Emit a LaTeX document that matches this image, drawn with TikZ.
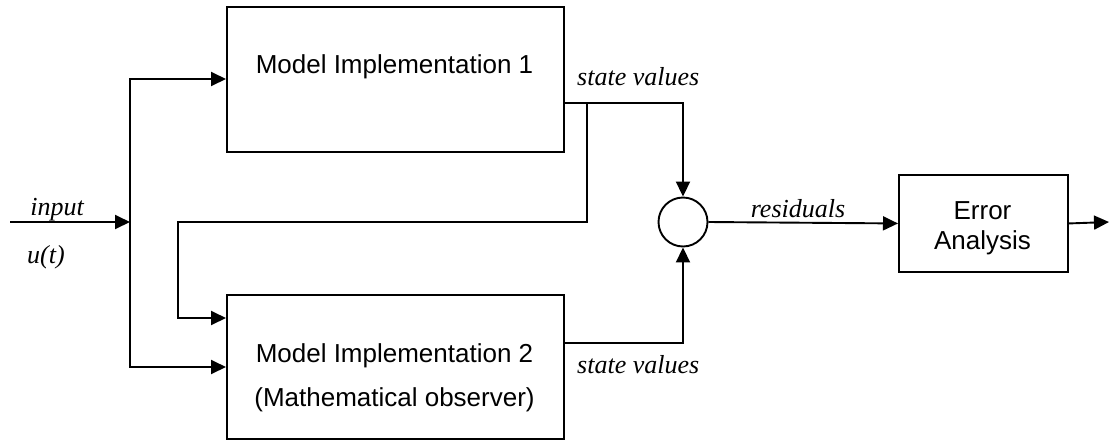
\documentclass[tikz,border=0pt]{standalone}
\usepackage{fontspec}
\setmainfont{Liberation Serif}
\setsansfont{Liberation Sans}
\usetikzlibrary{arrows.meta}
\begin{document}
\begin{tikzpicture}[x=1pt,y=-1pt,
  blk/.style={draw, line width=1.9pt, inner sep=0pt, anchor=north west},
  conn/.style={line width=1.9pt, -{Triangle[length=15pt,width=14pt]}},
  lbl/.style={font=\sffamily\fontsize{26}{30}\selectfont, inner sep=0pt, anchor=base},
  itl/.style={font=\itshape\fontsize{26}{30}\selectfont, inner sep=0pt}]
\useasboundingbox (0,0) rectangle (1109,445);
% blocks
\node[blk, minimum width=337pt, minimum height=145pt] (m1) at (226,6) {};
\node[blk, minimum width=337pt, minimum height=144pt] (m2) at (226,294) {};
\node[blk, minimum width=169pt, minimum height=97pt] (err) at (898,174) {};
\node[draw, circle, line width=1.9pt, minimum size=49pt, inner sep=0pt] (sum) at (683,222) {};
% block texts
\node[lbl] (t1) at (394.5,73) {Model Implementation 1};
\node[lbl] (t2) at (394.5,362) {Model Implementation 2};
\node[lbl] (t3) at (394.5,406) {(Mathematical observer)};
\node[lbl] (t4) at (982.5,219) {Error};
\node[lbl] (t5) at (982.5,249) {Analysis};
% italic labels
\node[itl, anchor=base] (l1) at (57,215) {input};
\node[itl, anchor=base] (l2) at (46,263) {u(t)};
\node[itl, anchor=base west] (l3) at (577,85) {state values};
\node[itl, anchor=base west] (l4) at (577,373) {state values};
\node[itl, anchor=base] (l5) at (798,217) {residuals};
% coordinates
\coordinate (in) at (10,222);
\coordinate (j) at (130,222);
\coordinate (m1in) at ([yshift=-73pt]m1.north west);
\coordinate (m2in1) at ([yshift=-24pt]m2.north west);
\coordinate (m2in2) at ([yshift=-73pt]m2.north west);
\coordinate (m1out) at ([yshift=-97pt]m1.north east);
\coordinate (m2out) at ([yshift=-49pt]m2.north east);
\coordinate (fb) at (587,103);
\coordinate (fb2) at (587,222);
\coordinate (fb3) at (178,222);
\coordinate (out) at (1109,222);
% connectors
\draw[conn] (in) -- (j);
\draw[conn] (j) |- (m1in);
\draw[conn] (j) |- (m2in2);
\draw[conn] (m1out) -| (sum.north);
\draw[conn] (fb) -- (fb2) -- (fb3) |- (m2in1);
\draw[conn] (m2out) -| (sum.south);
\draw[conn] (sum.east) -- (err.west);
\draw[conn] (err.east) -- (out);
\end{tikzpicture}
\end{document}
